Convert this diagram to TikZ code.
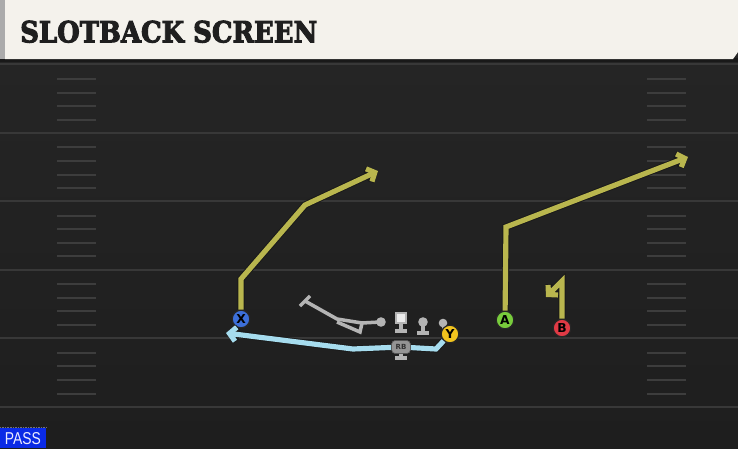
\documentclass[tikz,border=0pt]{standalone}
\usepackage{fontspec}
\usepackage{graphicx}
\usetikzlibrary{arrows.meta}
\newfontfamily\titlefont[BoldFont={DejaVu Serif Bold},BoldFeatures={FakeBold=3.5}]{DejaVu Serif}
\newfontfamily\labelfont{DejaVu Sans}
\newfontfamily\passfont{Liberation Sans}
\definecolor{fieldtop}{HTML}{262626}
\definecolor{fieldbot}{HTML}{1E1E1E}
\definecolor{lineclr}{HTML}{383838}
\definecolor{hashclr}{HTML}{3D3D3D}
\definecolor{headerclr}{HTML}{F4F2EC}
\definecolor{routeolive}{HTML}{B9B64E}
\definecolor{screenblue}{HTML}{A6DCEE}
\definecolor{xblue}{HTML}{3C6FD9}
\definecolor{yyellow}{HTML}{F2C41E}
\definecolor{agreen}{HTML}{78CC3C}
\definecolor{bred}{HTML}{E03A45}
\definecolor{greyman}{HTML}{B4B4B4}
\definecolor{passblue}{HTML}{0A2AE6}
\begin{document}
\begin{tikzpicture}[x=0.03cm,y=-0.03cm]

    \tikzset{
      yardline/.style={draw={lineclr}, line width=1.3pt},
      hash/.style={draw={hashclr}, line width=1.5pt},
      route/.style={
        draw={routeolive},
        line width=4.4pt,
        line join=miter,
        -{Straight Barb[length=5.5pt,width=12pt]},
        preaction={draw=black!90, line width=6pt},
      },
      screen/.style={
        route,
        draw={screenblue},
      },
      player/.style={
        circle,
        draw=black!85,
        line width=1pt,
        minimum size=15pt,
        inner sep=0pt,
        text=black,
        font=\labelfont\bfseries\fontsize{10.5}{10.5}\selectfont,
      },
      blocker/.style={draw={greyman}, line width=3pt},
      rbbox/.style={
        draw=black!70,
        fill=black!42,
        rounded corners=3pt,
        minimum width=16pt,
        minimum height=11pt,
        inner sep=0pt,
        text=black!80,
        font=\labelfont\bfseries\fontsize{6}{6}\selectfont,
      },
    }
    \useasboundingbox (0,0) rectangle (738,448);

	% field
	\shade[top color=fieldtop, bottom color=fieldbot] (0,0) rectangle (738,448);
	\draw[yardline] (0,64)--(738,64);
	\draw[yardline] (0,133)--(738,133);
	\draw[yardline] (0,201)--(738,201);
	\draw[yardline] (0,270)--(738,270);
	\draw[yardline] (0,338)--(738,338);
	\draw[yardline] (0,407)--(738,407);
	\draw[hash] (57,79)--(96,79);   \draw[hash] (647,79)--(686,79);
	\draw[hash] (57,93)--(96,93);   \draw[hash] (647,93)--(686,93);
	\draw[hash] (57,106)--(96,106); \draw[hash] (647,106)--(686,106);
	\draw[hash] (57,120)--(96,120); \draw[hash] (647,120)--(686,120);
	\draw[hash] (57,147)--(96,147); \draw[hash] (647,147)--(686,147);
	\draw[hash] (57,161)--(96,161); \draw[hash] (647,161)--(686,161);
	\draw[hash] (57,175)--(96,175); \draw[hash] (647,175)--(686,175);
	\draw[hash] (57,188)--(96,188); \draw[hash] (647,188)--(686,188);
	\draw[hash] (57,216)--(96,216); \draw[hash] (647,216)--(686,216);
	\draw[hash] (57,229)--(96,229); \draw[hash] (647,229)--(686,229);
	\draw[hash] (57,243)--(96,243); \draw[hash] (647,243)--(686,243);
	\draw[hash] (57,256)--(96,256); \draw[hash] (647,256)--(686,256);
	\draw[hash] (57,284)--(96,284); \draw[hash] (647,284)--(686,284);
	\draw[hash] (57,298)--(96,298); \draw[hash] (647,298)--(686,298);
	\draw[hash] (57,311)--(96,311); \draw[hash] (647,311)--(686,311);
	\draw[hash] (57,325)--(96,325); \draw[hash] (647,325)--(686,325);
	\draw[hash] (57,353)--(96,353); \draw[hash] (647,353)--(686,353);
	\draw[hash] (57,366)--(96,366); \draw[hash] (647,366)--(686,366);
	\draw[hash] (57,380)--(96,380); \draw[hash] (647,380)--(686,380);
	\draw[hash] (57,394)--(96,394); \draw[hash] (647,394)--(686,394);

	% header
	\fill[black!90] (0,58)--(738,58)--(738,62)--(0,62)--cycle;
	\fill[headerclr] (5,0)--(738,0)--(738,52)--(733,59)--(5,59)--cycle;
	\fill[black!33] (0,0) rectangle (5,59);
	\node[anchor=south west, inner sep=0pt, text={black!88}] (title) at (20,43)
	  {\resizebox{8.91cm}{0.65cm}{\titlefont\bfseries SLOTBACK SCREEN}};

	% line
	\draw[blocker] (305,301)--(337,319)--(362,323)--(380,322);
	\draw[blocker] (337,322)--(360,332)--(362,323);
	\draw[blocker] (300,306)--(310,296);
	\fill[greyman] (381,322) circle (4.8);
	\draw[blocker] (401,322)--(401,331); \draw[blocker] (395,331)--(407,331);
	\draw[draw={greyman}, fill=black!8, line width=1.2pt] (396,313) rectangle (406,323);
	\draw[blocker] (423,324)--(423,333); \draw[blocker] (417,333)--(429,333);
	\fill[greyman] (423,322) circle (4.8);
	\draw[blocker] (443,325)--(446,333);
	\fill[greyman] (443,323) circle (4.3);
	\draw[blocker] (401,351)--(401,358); \draw[blocker] (395,358)--(407,358);

	% players
	\node[player, fill={xblue}] (X) at (241,319) {X};
	\node[player, fill={yyellow}] (Y) at (450,334) {Y};
	\node[player, fill={agreen}] (A) at (505,320) {A};
	\node[player, fill={bred}] (B) at (562,328) {B};
	\node[rbbox] (RB) at (401,347) {RB};

	% routes
	\coordinate (x1) at (241,279);
	\coordinate (x2) at (305,205);
	\coordinate (xtip) at (378,171);
	\coordinate (a1) at (506,227);
	\coordinate (atip) at (688,157);
	\coordinate (b1) at (562,281);
	\coordinate (btip) at (546,297);
	\coordinate (y1) at (436,349);
	\coordinate (y2) at (353,349);
	\coordinate (ytip) at (226,333);
	\draw[route] (X)--(x1)--(x2)--(xtip);
	\draw[route] (A)--(a1)--(atip);
	\draw[route] (B)--(b1)--(btip);
	\draw[screen] (Y)--(y1)--(RB)--(y2)--(ytip);
	\node[rbbox] at (RB) {RB};

	% play type
	\draw[black!55, densely dotted] (0,427)--(46,427);
	\fill[passblue] (0,428) rectangle (46,448);
	\node[inner sep=0pt, text={blue!8}] (pass) at (23,439)
	  {\resizebox{1.08cm}{0.36cm}{\passfont PASS}};

\end{tikzpicture}
\end{document}
